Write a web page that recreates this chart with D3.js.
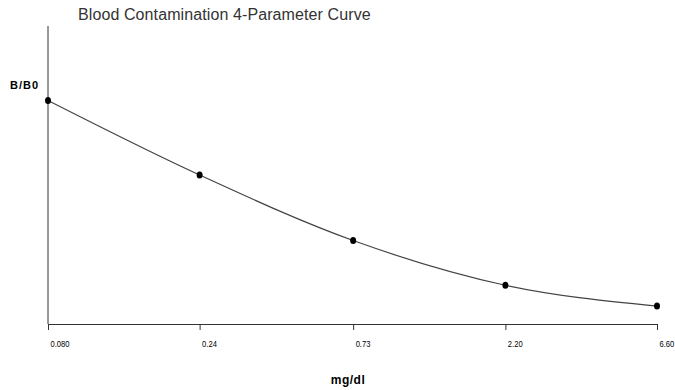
<!DOCTYPE html>
<html>
<head>
<meta charset="utf-8">
<script src="https://cdn.jsdelivr.net/npm/d3@7"></script>
<style>
  body { margin: 0; background: #fff; }
</style>
</head>
<body>
<div id="chart"></div>
<script>
// concentrations (mg/dl) and B/B0 responses
var doses = [0.08, 0.24, 0.73, 2.20, 6.60];
var tickLabels = ["0.080", "0.24", "0.73", "2.20", "6.60"];
var ratios = [0.75, 0.50, 0.28, 0.13, 0.06];

var width = 675, height = 390;

var svg = d3.select("#chart")
    .append("svg")
    .attr("width", width)
    .attr("height", height);

var x = d3.scaleLog()
    .domain([0.08, 6.6])
    .range([48, 657]);

var y = d3.scaleLinear()
    .domain([0, 1])
    .range([324, 26]);

// title
svg.append("text")
    .attr("x", 78)
    .attr("y", 20)
    .attr("font-family", "Liberation Sans, Arial, sans-serif")
    .attr("font-size", 16)
    .attr("letter-spacing", 0.1)
    .attr("fill", "#333")
    .text("Blood Contamination 4-Parameter Curve");

// y axis, no ticks
svg.append("line")
    .attr("x1", 48).attr("x2", 48)
    .attr("y1", y(1)).attr("y2", y(0))
    .attr("stroke", "#333")
    .attr("stroke-width", 1);

svg.append("text")
    .attr("x", 10)
    .attr("y", 89)
    .attr("font-family", "Liberation Sans, Arial, sans-serif")
    .attr("font-size", 11)
    .attr("font-weight", "bold")
    .attr("letter-spacing", 1)
    .attr("fill", "#000")
    .text("B/B0");

// x axis
var xAxis = d3.axisBottom(x)
    .tickValues(doses)
    .tickSize(6)
    .tickSizeOuter(0)
    .tickFormat(function(d, i){ return tickLabels[i]; });

var gx = svg.append("g")
    .attr("transform", "translate(0," + y(0) + ")")
    .call(xAxis);

gx.select(".domain").attr("stroke", "#333");
gx.selectAll(".tick line").attr("stroke", "#333");
// labels are a condensed face in the original, squeeze them horizontally
gx.selectAll(".tick text")
    .attr("text-anchor", "start")
    .attr("transform", "scale(0.8,1)")
    .attr("x", 2 / 0.8)
    .attr("y", 16)
    .attr("font-family", "Liberation Sans, Arial, sans-serif")
    .attr("font-size", 9.5)
    .attr("fill", "#000");

svg.append("text")
    .attr("x", 348)
    .attr("y", 384)
    .attr("text-anchor", "middle")
    .attr("font-family", "Liberation Sans, Arial, sans-serif")
    .attr("font-size", 12)
    .attr("font-weight", "bold")
    .attr("letter-spacing", 0.5)
    .attr("fill", "#000")
    .text("mg/dl");

// fitted curve through the standards
var pts = doses.map(function(d, i){ return {x: d, y: ratios[i]}; });

var line = d3.line()
    .x(function(d){ return x(d.x); })
    .y(function(d){ return y(d.y); })
    .curve(d3.curveMonotoneX);

svg.append("path")
    .datum(pts)
    .attr("d", line)
    .attr("fill", "none")
    .attr("stroke", "#444")
    .attr("stroke-width", 1.2);

svg.selectAll("ellipse.pt")
    .data(pts)
    .enter()
    .append("ellipse")
    .attr("class", "pt")
    .attr("cx", function(d){ return x(d.x); })
    .attr("cy", function(d){ return y(d.y); })
    .attr("rx", 3)
    .attr("ry", 3.5)
    .attr("fill", "#000");
</script>
</body>
</html>
